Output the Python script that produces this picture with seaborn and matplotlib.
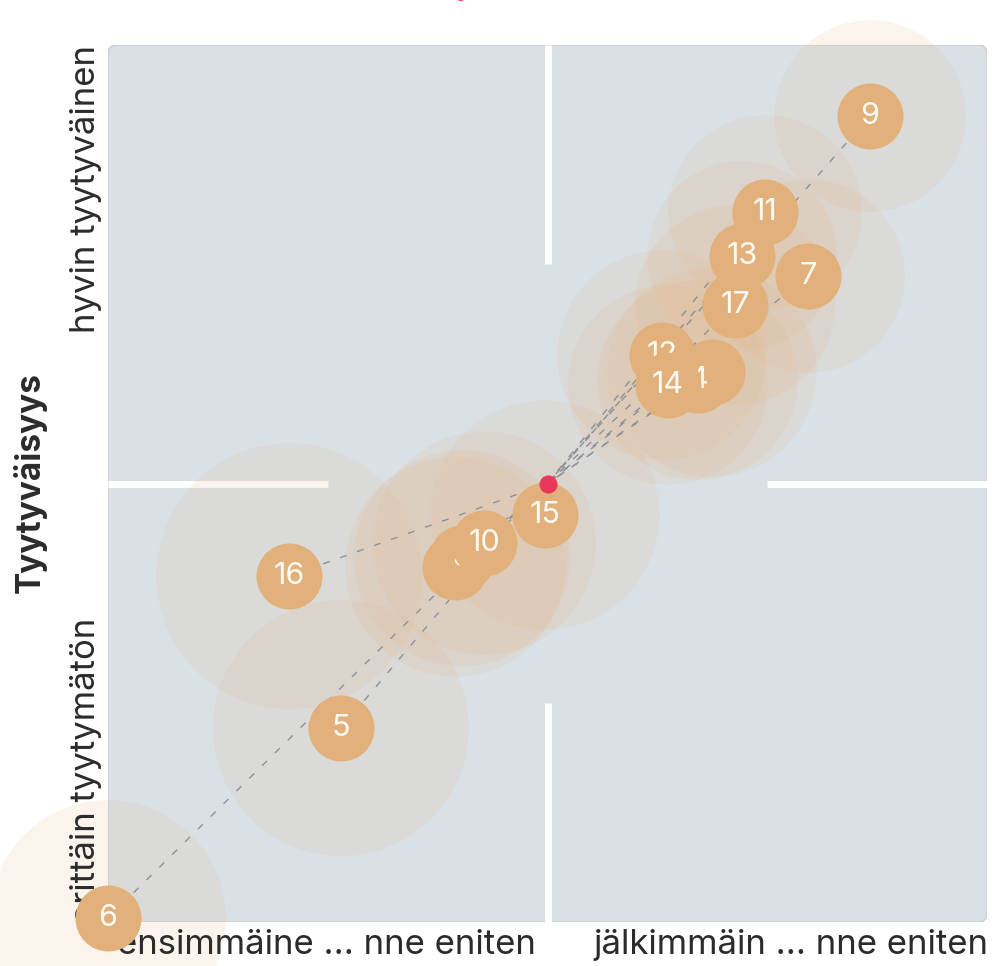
import matplotlib
matplotlib.use("Agg")
import matplotlib.pyplot as plt
import pandas as pd
import seaborn as sns
from matplotlib.patches import FancyBboxPatch

# --- data ---
labels = ['9', '11', '13', '7', '17', '12', '3', '4', '14', '2', '8', '10', '15', '16', '5', '6']
order_x = [0.734, 0.495, 0.443, 0.593, 0.427, 0.261, 0.374, 0.342, 0.274,
           -0.210, -0.195, -0.144, -0.006, -0.588, -0.470, -1.0]
satisfaction_y = [0.838, 0.619, 0.519, 0.473, 0.407, 0.293, 0.254, 0.236, 0.225,
                  -0.190, -0.170, -0.136, -0.072, -0.211, -0.558, -0.991]
respondents = [92, 94, 90, 94, 100, 110, 110, 100, 100, 121, 117, 125, 132, 177, 164, 139]
avg_x = 0.0
avg_y = 0.0

x_labels = ['ensimmäine ... nne eniten', 'jälkimmäin ... nne eniten']
y_labels = ['erittäin tyytymätön', 'hyvin tyytyväinen']
y_title = 'Tyytyväisyys'

df = pd.DataFrame({'label': labels, 'x': order_x, 'y': satisfaction_y, 'n': respondents})

sns.set_theme(style='white')
plt.rcParams['font.family'] = ['Inter', 'DejaVu Sans']

W, H = 992, 966
fig = plt.figure(figsize=(W / 100, H / 100), dpi=100)
ax = fig.add_axes([108 / W, 44 / H, 879 / W, 877 / H])
ax.set_xlim(-1, 1)
ax.set_ylim(-1, 1)
ax.axis('off')

# quadrant background
bg = FancyBboxPatch((-1, -1), 2, 2, boxstyle='round,pad=0,rounding_size=0.02',
                    fc='#d9e1e7', ec='#c8cdd1', lw=1, zorder=0)
ax.add_patch(bg)
gap = dict(color='white', lw=5, solid_capstyle='butt', zorder=0.5)
ax.plot([0, 0], [0.5, 1.0], **gap)
ax.plot([0, 0], [-1.0, -0.5], **gap)
ax.plot([-1.0, -0.5], [0, 0], **gap)
ax.plot([0.5, 1.0], [0, 0], **gap)

# halos (size = respondents)
sns.scatterplot(data=df, x='x', y='y', size='n', sizes=(0, 200 * 207.36), size_norm=(0, 200),
                color='#e6b483', alpha=0.14, linewidth=0, legend=False, ax=ax, zorder=1)
for coll in ax.collections:
    coll.set_clip_on(False)

# dashed connectors to the average
for xi, yi in zip(df['x'], df['y']):
    ax.plot([xi, avg_x], [yi, avg_y], color='#8c9196', lw=1, ls=(0, (5, 8)), zorder=2)

# numbered bubbles, drawn one by one so later ones cover earlier labels
for i, row in df.iterrows():
    ax.scatter(row['x'], row['y'], s=2258, color='#e1b07b', linewidth=0,
               zorder=3 + 2 * i, clip_on=False)
    ax.text(row['x'], row['y'], row['label'], color='#fffaf2', fontsize=22,
            ha='center', va='center', zorder=4 + 2 * i)

ax.scatter(avg_x, avg_y, s=170, color='#e8395a', linewidth=0, zorder=200, clip_on=False)

# axis texts (kept below the bubbles)
tf = fig.transFigure
txt = dict(transform=tf, color='#2b2b2b', fontsize=25, zorder=2.5, clip_on=False)
ax.text(30 / W, 1 - 483 / H, y_title, rotation=90, ha='center', va='center',
        fontweight='bold', **dict(txt, fontsize=24))
ax.text(86 / W, 1 - 45 / H, y_labels[1], rotation=90, ha='center', va='top', **txt)
ax.text(86 / W, 1 - 618 / H, y_labels[0], rotation=90, ha='center', va='top', **txt)
ax.text(326 / W, 1 - 954 / H, x_labels[0], ha='center', va='baseline', **txt)
ax.text(791 / W, 1 - 954 / H, x_labels[1], ha='center', va='baseline', **txt)
ax.text(465 / W, 1 + 6 / H, 'y', ha='center', va='baseline', transform=tf,
        color='#e8395a', fontsize=25, clip_on=False)

fig.savefig('out.png', dpi=100)
